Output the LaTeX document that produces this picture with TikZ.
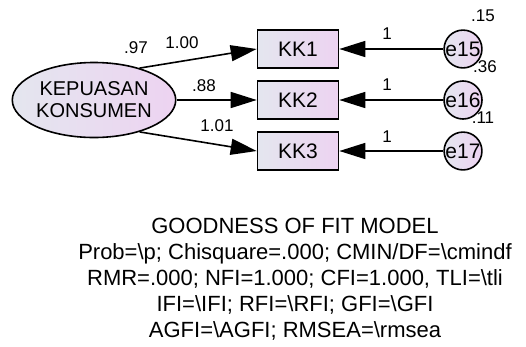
\documentclass[tikz,border=0pt]{standalone}
\usepackage{fontspec}
\setmainfont{Liberation Sans}
\usepackage{tikz}
\usetikzlibrary{shapes.geometric, arrows.meta, positioning}
\definecolor{lavleft}{HTML}{E4E6EF}
\definecolor{lavright}{HTML}{EDD3F1}

\tikzset{
    semfill/.style={left color=lavleft, right color=lavright, draw=black, line width=1.6pt},
    obsbox/.style={semfill, rectangle, minimum width=81pt, minimum height=38pt, inner sep=0pt, font=\fontsize{21}{21}\selectfont},
    errcirc/.style={semfill, circle, minimum size=36pt, inner sep=0pt, font=\fontsize{21}{21}\selectfont},
    path/.style={line width=1.6pt, -{Triangle[length=26pt, width=16pt]}},
    est/.style={inner sep=0pt, font=\fontsize{17}{17}\selectfont}
}

\begin{document}
\begin{tikzpicture}[x=1pt, y=-1pt]
    \useasboundingbox (0,0) rectangle (526,346);

    % latent variable
    \node[semfill, ellipse, minimum width=162pt, minimum height=75pt, inner sep=0pt, align=center,
          font=\fontsize{20}{22}\selectfont] (lat) at (94,100) {KEPUASAN\\KONSUMEN};

    % indicators
    \node[obsbox] (kk1) at (298,49) {KK1};
    \node[obsbox] (kk2) at (298,100) {KK2};
    \node[obsbox] (kk3) at (298,151) {KK3};

    % error terms
    \node[errcirc] (e15) at (463,49) {e15};
    \node[errcirc] (e16) at (463,100) {e16};
    \node[errcirc] (e17) at (463,151) {e17};

    % loadings
    \draw[path] (lat.35) -- (kk1.west);
    \draw[path] (lat.east) -- (kk2.west);
    \draw[path] (lat.-35) -- (kk3.west);
    \draw[path] (e15.west) -- (kk1.east);
    \draw[path] (e16.west) -- (kk2.east);
    \draw[path] (e17.west) -- (kk3.east);

    % estimates
    \node[est] (r97) at (136,48) {.97};
    \node[est] (l100) at (182,43) {1.00};
    \node[est] (l88) at (204,86) {.88};
    \node[est] (l101) at (217,126) {1.01};
    \node[est] (w15) at (387,34) {1};
    \node[est] (w16) at (387,85) {1};
    \node[est] (w17) at (387,137) {1};
    \node[est] (v15) at (483,16) {.15};
    \node[est] (v36) at (485,67) {.36};
    \node[est] (v11) at (483,118) {.11};

    % fit summary
    \node[align=center, inner sep=0pt, font=\fontsize{22}{26}\selectfont] (fit) at (295,279) {
        GOODNESS OF FIT MODEL\\
        Prob=\textbackslash p; Chisquare=.000; CMIN/DF=\textbackslash cmindf\\
        RMR=.000; NFI=1.000; CFI=1.000, TLI=\textbackslash tli\\
        IFI=\textbackslash IFI; RFI=\textbackslash RFI; GFI=\textbackslash GFI\\
        AGFI=\textbackslash AGFI; RMSEA=\textbackslash rmsea
    };
\end{tikzpicture}
\end{document}
